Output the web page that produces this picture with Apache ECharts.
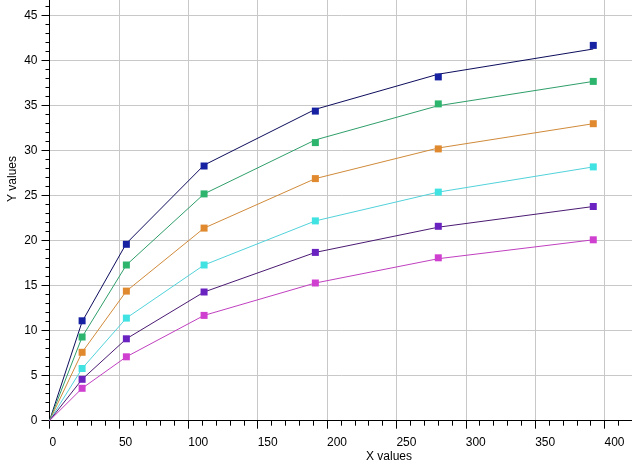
<!DOCTYPE html>
<html>
<head>
<meta charset="utf-8">
<script src="https://cdn.jsdelivr.net/npm/echarts@6/dist/echarts.min.js"></script>
<style>html,body{margin:0;padding:0;background:#fff;}#c{width:632px;height:472px;}</style>
</head>
<body>
<div id="c"></div>
<script>
// Data
var xValues = [23.5, 55.4, 111.4, 191.6, 280.2, 391.9];
var blueY    = [11.1, 19.6, 28.3, 34.4, 38.2, 41.7];
var greenY   = [9.3, 17.3, 25.2, 30.9, 35.2, 37.7];
var orangeY  = [7.6, 14.4, 21.4, 26.9, 30.2, 33.0];
var cyanY    = [5.8, 11.4, 17.3, 22.2, 25.4, 28.2];
var purpleY  = [4.6, 9.1, 14.3, 18.7, 21.6, 23.8];
var magentaY = [3.6, 7.1, 11.7, 15.3, 18.1, 20.1];
// Connecting lines (start at origin, slightly smoothed values)
var blueLine    = [0, 11.0, 19.7, 28.4, 34.6, 38.5, 41.3];
var greenLine   = [0, 9.3, 17.3, 25.2, 31.2, 35.0, 37.7];
var orangeLine  = [0, 7.6, 14.4, 21.4, 26.9, 30.3, 33.0];
var cyanLine    = [0, 5.8, 11.4, 17.3, 22.2, 25.4, 28.2];
var purpleLine  = [0, 4.6, 9.1, 14.3, 18.7, 21.5, 23.8];
var magentaLine = [0, 3.6, 7.1, 11.7, 15.3, 18.0, 20.1];
var xTicksLabel = ['0','50','100','150','200','250','300','350','400'];
var yTicksLabel = ['0','5','10','15','20','25','30','35','40','45'];

var groups = [
  {y: blueY, line: blueLine, mc: '#1622a2', lc: '#0c0c5c'},
  {y: greenY, line: greenLine, mc: '#2db56e', lc: '#2f9e6a'},
  {y: orangeY, line: orangeLine, mc: '#e0892e', lc: '#d08a3a'},
  {y: cyanY, line: cyanLine, mc: '#40e2e2', lc: '#52d2da'},
  {y: purpleY, line: purpleLine, mc: '#6a22c0', lc: '#4a1a72'},
  {y: magentaY, line: magentaLine, mc: '#d040d0', lc: '#c040c0'}
];
var lineX = [0].concat(xValues);
var series = [];
groups.forEach(function (g) {
  series.push({
    type: 'line', data: lineX.map(function (x, i) { return [x, g.line[i]]; }),
    showSymbol: false, symbol: 'none', lineStyle: {color: g.lc, width: 1}, silent: true, z: 2
  });
  series.push({
    type: 'scatter', data: xValues.map(function (x, i) { return [x, g.y[i]]; }),
    symbol: 'rect', symbolSize: 7, itemStyle: {color: g.mc, opacity: 1}, z: 3
  });
});

var chart = echarts.init(document.getElementById('c'), null, {renderer: 'canvas'});
var font = 'Liberation Sans, Arial, sans-serif';
chart.setOption({
  animation: false,
  backgroundColor: '#ffffff',
  grid: {left: 49.5, right: -41.9, top: -29.3, bottom: 51.3, containLabel: false, outerBoundsMode: 'none'},
  xAxis: {
    type: 'value', min: 0, max: 450, interval: 50,
    axisLine: {show: true, lineStyle: {color: '#000', width: 1}},
    axisTick: {show: true, length: 8, lineStyle: {color: '#000'}},
    minorTick: {show: true, splitNumber: 5, length: 5, lineStyle: {color: '#000'}},
    splitLine: {show: true, lineStyle: {color: '#c8c8c8', width: 1}},
    axisLabel: {color: '#000', fontSize: 12, fontFamily: font, margin: 16, align: 'left',
      formatter: function (v) { return xTicksLabel.indexOf(String(v)) >= 0 ? String(v) : ''; }}
  },
  yAxis: {
    type: 'value', min: 0, max: 50, interval: 5,
    axisLine: {show: true, lineStyle: {color: '#000', width: 1}},
    axisTick: {show: true, length: 8, lineStyle: {color: '#000'}},
    minorTick: {show: true, splitNumber: 5, length: 4, lineStyle: {color: '#000'}},
    splitLine: {show: true, lineStyle: {color: '#c8c8c8', width: 1}},
    axisLabel: {color: '#000', fontSize: 12, fontFamily: font, margin: 12,
      formatter: function (v) { return yTicksLabel.indexOf(String(v)) >= 0 ? String(v) : ''; }}
  },
  graphic: [
    {type: 'text', left: 366, top: 451, style: {text: 'X values', fill: '#000', font: '12px ' + font}},
    {type: 'text', x: 7, y: 202, rotation: Math.PI / 2, style: {text: 'Y values', fill: '#000', font: '12px ' + font}}
  ],
  series: series
});
</script>
</body>
</html>
